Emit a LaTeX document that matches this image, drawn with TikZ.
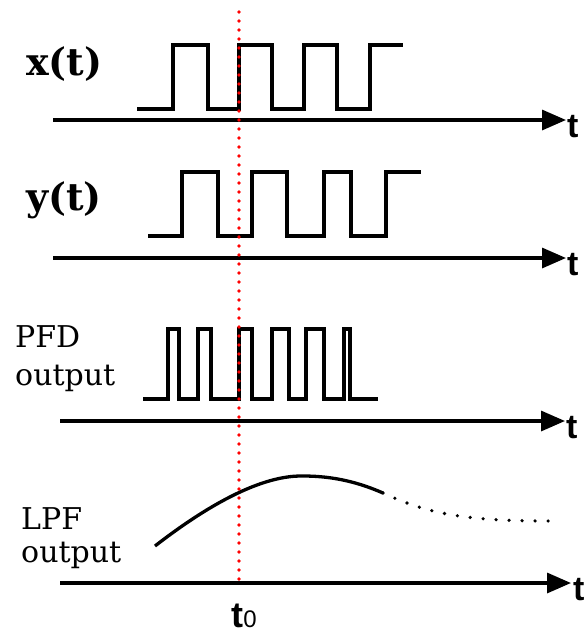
\documentclass[tikz,border=0pt]{standalone}
\usepackage{fontspec}
\setmainfont{DejaVu Serif}
\newfontfamily\axisfont{Liberation Sans}
\usetikzlibrary{arrows.meta}
\begin{document}
\begin{tikzpicture}[x=1pt,y=-1pt,
  wave/.style={line width=3.3pt,line join=miter},
  axis/.style={line width=3.3pt,-{Triangle[length=24pt,width=20pt]}},
  siglabel/.style={anchor=base west,inner sep=0pt,font=\fontsize{38}{38}\selectfont\bfseries},
  blocklabel/.style={anchor=base west,inner sep=0pt,align=left,font=\fontsize{30}{38}\selectfont},
  tlabel/.style={anchor=base west,inner sep=0pt,font=\axisfont\fontsize{34}{34}\selectfont\bfseries},
  marker/.style={red,line width=3.6pt,line cap=round,dash pattern=on 0pt off 9pt}]
\useasboundingbox (0,0) rectangle (585,635);
\node[siglabel] (xlab) at (26,75) {x(t)};
\node[siglabel] (ylab) at (26,210) {y(t)};
\node[blocklabel] (pfdlab) at (15,347) {PFD};
\node[blocklabel] (pfdout) at (15,385) {output};
\node[blocklabel] (lpflab) at (21,529) {LPF};
\node[blocklabel] (lpfout) at (21,562) {output};
\coordinate (xs) at (53,120);
\coordinate (xe) at (566,120);
\coordinate (ys) at (53,258);
\coordinate (ye) at (566,258);
\coordinate (ps) at (60,421);
\coordinate (pe) at (565,421);
\coordinate (ls) at (60,583);
\coordinate (le) at (571,583);
\draw[axis] (xs) -- (xe);
\draw[axis] (ys) -- (ye);
\draw[axis] (ps) -- (pe);
\draw[axis] (ls) -- (le);
\node[tlabel] (xt) at (567,137) {t};
\node[tlabel] (yt) at (567,275) {t};
\node[tlabel] (pt) at (566,438) {t};
\node[tlabel] (lt) at (573,600) {t};
\draw[wave] (137,109) -| (173,45) -| (208,109) -| (239,45) -| (272,109) -| (304,45) -| (337,109) -| (370,45) -- (403,45);
\draw[wave] (148,236) -| (182,172) -| (218,236) -| (252,172) -| (287,236) -| (324,172) -| (351,236) -| (386,172) -- (421,172);
\draw[wave] (143,399) -| (168,329) -| (179,399) -| (198,329) -| (211,399) -| (239,329) -| (252,399) -| (272,329) -| (289,399) -| (306,329) -| (324,399) -| (344,329) -| (350,399) -- (378,399);
\draw[line width=3.3pt] (155,546) .. controls (195,515) and (255,475) .. (303,476) .. controls (335,476) and (360,483) .. (383,493);
\draw[line width=3.6pt,line cap=round,dash pattern=on 0pt off 13pt] (383,493) .. controls (430,515) and (470,521) .. (550,521);
\coordinate (mtop) at (239,12);
\coordinate (mbot) at (239,583);
\draw[marker] (mtop) -- (mbot);
\node[anchor=base,inner sep=0pt] (t0) at (244,627) {\axisfont\fontsize{36}{36}\selectfont\bfseries t\mdseries\fontsize{24}{24}\selectfont 0};
\end{tikzpicture}
\end{document}
